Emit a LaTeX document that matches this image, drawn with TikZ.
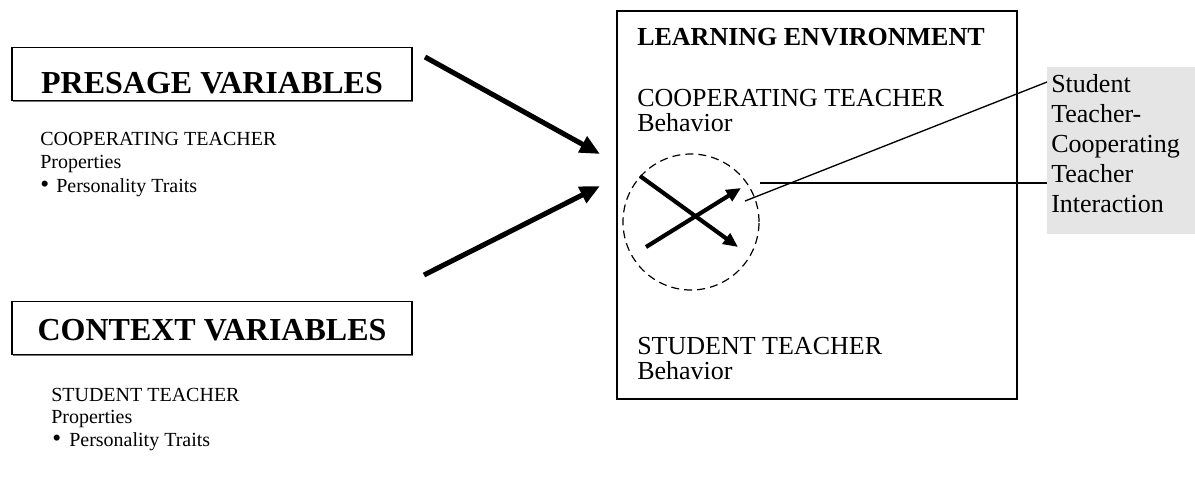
\documentclass[tikz,border=0pt]{standalone}
\usepackage{fontspec}
\setmainfont{Liberation Serif}
\usetikzlibrary{arrows.meta,shadows}

\begin{document}
\begin{tikzpicture}[x=0.75pt,y=-0.75pt,
  smalltxt/.style={anchor=base west,inner sep=0pt,font=\fontsize{15}{18}\selectfont},
  dot/.style={anchor=base west,inner sep=0pt,font=\fontsize{19}{20}\selectfont},
  txt/.style={anchor=base west,inner sep=0pt,font=\fontsize{19.5}{23}\selectfont},
  titletxt/.style={txt,font=\bfseries\fontsize{19.5}{23}\selectfont},
  varbox/.style={draw,line width=1.1pt,fill=white,minimum width=300pt,minimum height=40pt,
    drop shadow={shadow xshift=1.1pt,shadow yshift=-1.1pt,fill=black!55,opacity=1}},
  headtxt/.style={anchor=base,inner sep=0pt,font=\bfseries\fontsize{24}{28}\selectfont},
  envbox/.style={draw,line width=1.5pt,minimum width=300pt,minimum height=291pt,anchor=north west},
  ring/.style={draw,circle,line width=0.9pt,dash pattern=on 6pt off 3.8pt,minimum size=102pt,inner sep=0pt},
  greybox/.style={fill=black!10,minimum width=111pt,minimum height=125pt,anchor=north west,inner sep=0pt},
  bigarrow/.style={line width=3.8pt,-{Triangle[length=15pt,width=13pt]}},
  crossarrow/.style={line width=3.1pt,-{Triangle[length=11pt,width=9.5pt]}},
  leader/.style={line width=1pt}
]
\useasboundingbox (0,0) rectangle (1195,483);

% left column: the two variable boxes
\node[varbox] (presage) at (212,74) {};
\node[headtxt] (presagetxt) at (212,93) {PRESAGE VARIABLES};
\node[varbox] (context) at (212,328) {};
\node[headtxt] (contexttxt) at (212,340) {CONTEXT VARIABLES};

% properties under each box
\node[smalltxt] (ct1) at (40,145) {COOPERATING TEACHER};
\node[smalltxt] (ct2) at (40,168) {Properties};
\node[dot] (ct3b) at (40,192) {\textbullet};
\node[smalltxt] (ct3) at (56,192) {Personality Traits};

\node[smalltxt] (st1) at (51,401) {STUDENT TEACHER};
\node[smalltxt] (st2) at (51,423) {Properties};
\node[dot] (st3b) at (52,446) {\textbullet};
\node[smalltxt] (st3) at (69,446) {Personality Traits};

% learning environment
\node[envbox] (env) at (616,10) {};
\node[titletxt] (envtitle) at (637,45) {LEARNING ENVIRONMENT};
\node[txt] (ecb1) at (637,106) {COOPERATING TEACHER};
\node[txt] (ecb2) at (637,131) {Behavior};
\node[txt] (esb1) at (637,354) {STUDENT TEACHER};
\node[txt] (esb2) at (637,379) {Behavior};

% interaction circle with crossing arrows
\node[ring] (inter) at (691,222) {};
\coordinate (xa1) at (640,176);
\coordinate (xa2) at (738,247);
\coordinate (xb1) at (646,247);
\coordinate (xb2) at (741,188);
\draw[crossarrow] (xa1) -- (xa2);
\draw[crossarrow] (xb1) -- (xb2);

% arrows from the variable groups into the environment
\coordinate (pa) at (425,57);
\coordinate (pb) at (600,154);
\coordinate (ca) at (424,275);
\coordinate (cb) at (600,186);
\draw[bigarrow] (pa) -- (pb);
\draw[bigarrow] (ca) -- (cb);

% callout label
\node[greybox] (label) at (1047,67) {};
\foreach \t [count=\i] in {Student,Teacher-,Cooperating,Teacher,Interaction}
  \node[txt] (lab\i) at (1051,62+30*\i) {\t};

\coordinate (la) at (745,201);
\coordinate (lb) at (760,183);
\draw[leader] (la) -- ([yshift=-11.25pt]label.north west);
\draw[leader] (lb) -- (label.west |- lb);
\end{tikzpicture}
\end{document}
